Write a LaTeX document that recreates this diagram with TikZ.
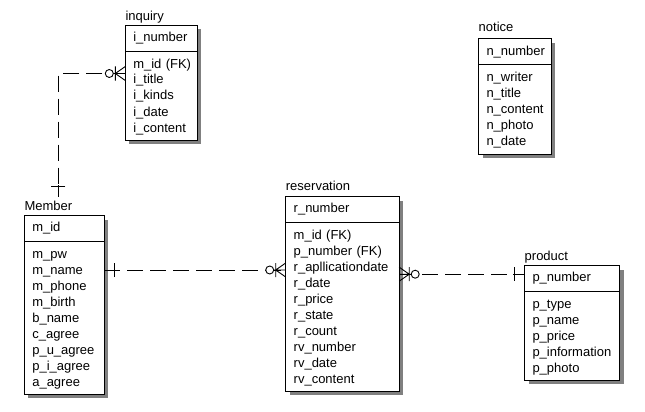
\documentclass[tikz,border=0pt]{standalone}
\usepackage{fontspec}
\setmainfont{Liberation Sans}
\usetikzlibrary{positioning, shadows}

\begin{document}
\begin{tikzpicture}[
    x=1pt, y=-1pt,
    font=\fontsize{13}{16}\selectfont,
    keybox/.style={draw, fill=white, line width=0.9pt, anchor=north west,
      minimum height=26pt, inner xsep=8pt, inner ysep=0pt, outer sep=0pt,
      text width=#1, align=left,
      drop shadow={shadow xshift=4pt, shadow yshift=-4pt, fill=black!50, opacity=1}},
    attrbox/.style={keybox=#1, inner ysep=4pt,
      execute at begin node={\rule{0pt}{12.5pt}},
      execute at end node={\rule[-4pt]{0pt}{4pt}}},
    entname/.style={anchor=base west, inner sep=0pt},
    rel/.style={line width=0.9pt, dash pattern=on 16pt off 7pt},
    endmark/.style={line width=0.9pt},
    manyzero/.pic={
      \draw[endmark] (0,-7) -- (-10,0) -- (0,7) (-10,-7) -- (-10,7) (0,0) -- (-12,0);
      \draw[endmark, fill=white] (-16,0) circle (4pt);},
    onebar/.pic={
      \draw[endmark] (-10,-7) -- (-10,7) (0,0) -- (-12,0);}
]
\useasboundingbox (0,0) rectangle (645,412);

% inquiry
\node[keybox=56pt] (inqkey) at (125.3,25.5) {i\_number};
\node[attrbox=56pt, minimum height=88.5pt, below=0pt of inqkey] (inqattr)
  {m\_id~(FK)\\i\_title\\i\_kinds\\i\_date\\i\_content};
\node[entname] (inqname) at ([yshift=5pt]inqkey.north west) {inquiry};

% notice
\node[keybox=56.5pt] (notkey) at (478.5,38.7) {n\_number};
\node[attrbox=56.5pt, minimum height=89.5pt, below=0pt of notkey] (notattr)
  {n\_writer\\n\_title\\n\_content\\n\_photo\\n\_date};
\node[entname] (notname) at ([yshift=7pt]notkey.north west) {notice};

% Member
\node[keybox=64pt] (memkey) at (24.3,215.5) {m\_id};
\node[attrbox=64pt, minimum height=152.5pt, below=0pt of memkey] (memattr)
  {m\_pw\\m\_name\\m\_phone\\m\_birth\\b\_name\\c\_agree\\p\_u\_agree\\p\_i\_agree\\a\_agree};
\node[entname] (memname) at ([yshift=5pt]memkey.north west) {Member};

% reservation
\node[keybox=97.5pt] (reskey) at (285.7,196.5) {r\_number};
\node[attrbox=97.5pt, minimum height=168.5pt, below=0pt of reskey] (resattr)
  {m\_id~(FK)\\p\_number~(FK)\\r\_apllicationdate\\r\_date\\r\_price\\r\_state\\r\_count\\rv\_number\\rv\_date\\rv\_content};
\node[entname] (resname) at ([yshift=6pt]reskey.north west) {reservation};

% product
\node[keybox=79pt] (prodkey) at (524.5,265.5) {p\_number};
\node[attrbox=79pt, minimum height=88.5pt, below=0pt of prodkey] (prodattr)
  {p\_type\\p\_name\\p\_price\\p\_information\\p\_photo};
\node[entname] (prodname) at ([yshift=5.5pt]prodkey.north west) {product};

% relationships
\coordinate (inqin) at ([yshift=-22pt]inqattr.north west);
\coordinate (memtop) at (58.3,196.7);
\coordinate (memout) at ([yshift=-28.5pt]memattr.north east);
\coordinate (resin) at (resattr.west |- memout);
\coordinate (resout) at ([yshift=-51.7pt]resattr.north east);
\coordinate (prodin) at (prodkey.west |- resout);

\draw[rel] (inqin) -- (memtop |- inqin) -- (memtop);
\draw[rel] (memout) -- (resin);
\draw[rel] (resout) -- (prodin);

\pic at (inqin) {manyzero};
\pic[rotate=-90] at (memtop) {onebar};
\pic[rotate=180] at (memout) {onebar};
\pic at (resin) {manyzero};
\pic[rotate=180] at (resout) {manyzero};
\pic at (prodin) {onebar};
\end{tikzpicture}
\end{document}
